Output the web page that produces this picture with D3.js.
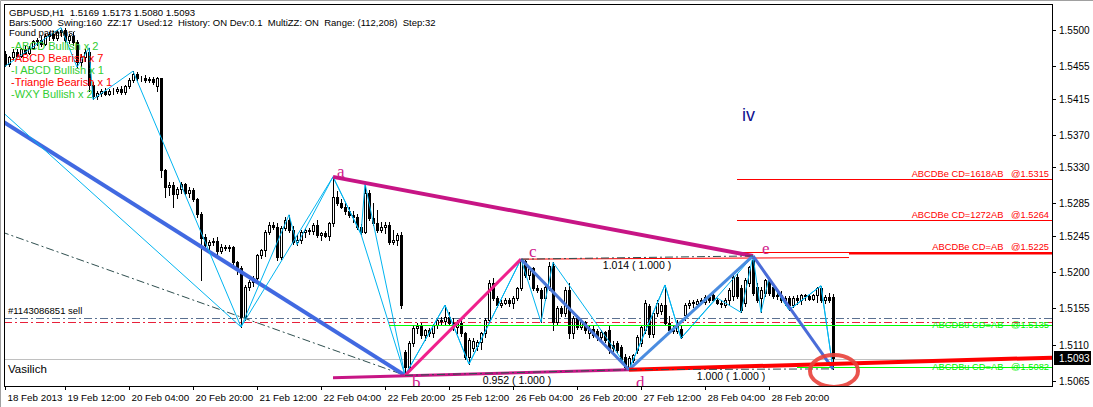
<!DOCTYPE html>
<html><head><meta charset="utf-8">
<script src="https://cdn.jsdelivr.net/npm/d3@7"></script>
<style>html,body{margin:0;padding:0;background:#fff}svg{display:block}text{white-space:pre}</style>
</head><body>
<svg id="c" width="1093" height="407"></svg>
<script>
// ---------- DATA (GBPUSD H1, prices) ----------
const openP = [1.5470,1.5458,1.5466,1.5473,1.5468,1.5476,1.5472,1.5478,1.5486,1.5488,
1.5483,1.5493,1.5495,1.5490,1.5497,1.5500,1.5488,1.5492,1.5485,1.5460,
1.5466,1.5473,1.5432,1.5418,1.5422,1.5424,1.5421,1.5425,1.5424,1.5427,
1.5423,1.5430,1.5438,1.5446,1.5440,1.5441,1.5438,1.5439,1.5430,1.5440,
1.5326,1.5305,1.5308,1.5297,1.5303,1.5309,1.5298,1.5302,1.5290,1.5272,
1.5243,1.5233,1.5237,1.5238,1.5226,1.5231,1.5230,1.5231,1.5212,1.5205,
1.5144,1.5182,1.5188,1.5193,1.5221,1.5227,1.5250,1.5258,1.5256,1.5219,
1.5255,1.5265,1.5252,1.5237,1.5240,1.5250,1.5252,1.5251,1.5258,1.5246,
1.5248,1.5245,1.5261,1.5293,1.5286,1.5281,1.5276,1.5271,1.5268,1.5256,
1.5250,1.5298,1.5267,1.5261,1.5252,1.5256,1.5258,1.5237,1.5240,1.5246,
1.5101,1.5082,1.5112,1.5131,1.5133,1.5122,1.5128,1.5124,1.5134,1.5140,
1.5139,1.5144,1.5137,1.5132,1.5137,1.5124,1.5095,1.5106,1.5108,1.5113,
1.5124,1.5141,1.5186,1.5168,1.5159,1.5162,1.5165,1.5162,1.5168,1.5180,
1.5214,1.5196,1.5205,1.5180,1.5178,1.5168,1.5182,1.5208,1.5138,1.5155,
1.5149,1.5178,1.5125,1.5143,1.5132,1.5138,1.5124,1.5130,1.5127,1.5120,
1.5126,1.5128,1.5110,1.5112,1.5107,1.5095,1.5082,1.5091,1.5103,1.5112,
1.5128,1.5158,1.5123,1.5149,1.5152,1.5159,1.5137,1.5128,1.5127,1.5130,
1.5147,1.5159,1.5162,1.5160,1.5164,1.5163,1.5169,1.5172,1.5165,1.5162,
1.5159,1.5165,1.5170,1.5194,1.5180,1.5162,1.5186,1.5215,1.5182,1.5168,
1.5174,1.5190,1.5182,1.5170,1.5172,1.5165,1.5168,1.5159,1.5168,1.5166,
1.5171,1.5170,1.5167,1.5171,1.5180,1.5166,1.5169,1.5169];
const highP = [1.5474,1.5468,1.5476,1.5476,1.5478,1.5480,1.5480,1.5488,1.5490,1.5492,
1.5495,1.5498,1.5499,1.5500,1.5503,1.5502,1.5495,1.5498,1.5487,1.5470,
1.5476,1.5478,1.5435,1.5425,1.5427,1.5428,1.5427,1.5428,1.5429,1.5430,
1.5432,1.5440,1.5449,1.5448,1.5443,1.5444,1.5442,1.5442,1.5442,1.5441,
1.5328,1.5312,1.5312,1.5306,1.5312,1.5311,1.5306,1.5304,1.5292,1.5274,
1.5247,1.5240,1.5242,1.5243,1.5235,1.5233,1.5234,1.5232,1.5214,1.5207,
1.5184,1.5190,1.5195,1.5222,1.5229,1.5252,1.5262,1.5262,1.5261,1.5257,
1.5268,1.5271,1.5257,1.5246,1.5252,1.5255,1.5255,1.5261,1.5264,1.5250,
1.5251,1.5262,1.5318,1.5300,1.5290,1.5286,1.5281,1.5276,1.5272,1.5260,
1.5310,1.5302,1.5285,1.5277,1.5262,1.5262,1.5262,1.5252,1.5248,1.5250,
1.5103,1.5115,1.5135,1.5137,1.5137,1.5130,1.5131,1.5136,1.5142,1.5144,
1.5159,1.5150,1.5143,1.5140,1.5143,1.5126,1.5118,1.5118,1.5116,1.5126,
1.5143,1.5190,1.5193,1.5170,1.5166,1.5168,1.5168,1.5170,1.5182,1.5216,
1.5215,1.5206,1.5206,1.5184,1.5180,1.5185,1.5212,1.5212,1.5158,1.5158,
1.5182,1.5186,1.5146,1.5147,1.5141,1.5139,1.5133,1.5133,1.5130,1.5128,
1.5127,1.5134,1.5114,1.5115,1.5110,1.5098,1.5096,1.5099,1.5122,1.5134,
1.5166,1.5160,1.5152,1.5165,1.5162,1.5184,1.5145,1.5135,1.5140,1.5134,
1.5162,1.5165,1.5166,1.5167,1.5168,1.5172,1.5171,1.5175,1.5168,1.5165,
1.5168,1.5180,1.5196,1.5198,1.5184,1.5193,1.5208,1.5220,1.5186,1.5181,
1.5192,1.5193,1.5185,1.5176,1.5176,1.5170,1.5170,1.5170,1.5171,1.5173,
1.5173,1.5173,1.5173,1.5182,1.5183,1.5171,1.5174,1.5173];
const lowP = [1.5455,1.5455,1.5463,1.5466,1.5466,1.5470,1.5470,1.5476,1.5482,1.5480,
1.5481,1.5488,1.5488,1.5488,1.5492,1.5485,1.5484,1.5482,1.5454,1.5456,
1.5462,1.5425,1.5414,1.5414,1.5418,1.5419,1.5419,1.5421,1.5422,1.5421,
1.5421,1.5428,1.5436,1.5438,1.5437,1.5436,1.5435,1.5433,1.5424,1.5318,
1.5293,1.5296,1.5281,1.5292,1.5298,1.5295,1.5293,1.5288,1.5268,1.5190,
1.5229,1.5228,1.5233,1.5223,1.5224,1.5227,1.5226,1.5210,1.5198,1.5132,
1.5140,1.5178,1.5183,1.5188,1.5217,1.5220,1.5247,1.5253,1.5215,1.5216,
1.5252,1.5250,1.5235,1.5234,1.5236,1.5243,1.5247,1.5247,1.5244,1.5240,
1.5243,1.5240,1.5257,1.5283,1.5279,1.5272,1.5268,1.5262,1.5253,1.5247,
1.5248,1.5265,1.5258,1.5250,1.5250,1.5249,1.5235,1.5235,1.5233,1.5155,
1.5072,1.5080,1.5108,1.5125,1.5118,1.5116,1.5121,1.5120,1.5131,1.5135,
1.5135,1.5134,1.5128,1.5124,1.5121,1.5092,1.5086,1.5102,1.5104,1.5105,
1.5120,1.5138,1.5165,1.5157,1.5157,1.5160,1.5158,1.5155,1.5165,1.5178,
1.5194,1.5192,1.5178,1.5175,1.5138,1.5165,1.5178,1.5128,1.5135,1.5145,
1.5146,1.5118,1.5118,1.5130,1.5130,1.5125,1.5118,1.5119,1.5116,1.5114,
1.5113,1.5100,1.5102,1.5101,1.5088,1.5080,1.5079,1.5088,1.5100,1.5108,
1.5125,1.5120,1.5120,1.5146,1.5148,1.5134,1.5126,1.5124,1.5124,1.5118,
1.5140,1.5155,1.5157,1.5157,1.5160,1.5161,1.5163,1.5164,1.5160,1.5157,
1.5157,1.5160,1.5165,1.5168,1.5150,1.5158,1.5183,1.5172,1.5163,1.5150,
1.5170,1.5172,1.5168,1.5167,1.5163,1.5159,1.5153,1.5157,1.5161,1.5160,
1.5166,1.5165,1.5165,1.5163,1.5163,1.5162,1.5163,1.5080];
const closeP = [1.5458,1.5466,1.5473,1.5468,1.5476,1.5472,1.5478,1.5486,1.5488,1.5483,
1.5493,1.5495,1.5490,1.5497,1.5500,1.5488,1.5492,1.5485,1.5460,1.5466,
1.5473,1.5432,1.5418,1.5422,1.5424,1.5421,1.5425,1.5424,1.5427,1.5423,
1.5430,1.5438,1.5446,1.5440,1.5441,1.5438,1.5439,1.5436,1.5440,1.5326,
1.5305,1.5308,1.5297,1.5303,1.5309,1.5298,1.5302,1.5290,1.5272,1.5242,
1.5233,1.5237,1.5238,1.5226,1.5231,1.5230,1.5231,1.5212,1.5205,1.5144,
1.5182,1.5188,1.5193,1.5221,1.5227,1.5250,1.5258,1.5256,1.5219,1.5255,
1.5265,1.5252,1.5237,1.5240,1.5250,1.5252,1.5251,1.5258,1.5246,1.5248,
1.5245,1.5261,1.5293,1.5286,1.5281,1.5276,1.5271,1.5268,1.5256,1.5250,
1.5298,1.5267,1.5261,1.5252,1.5256,1.5258,1.5237,1.5240,1.5246,1.5159,
1.5082,1.5112,1.5131,1.5133,1.5122,1.5128,1.5124,1.5134,1.5140,1.5139,
1.5144,1.5137,1.5132,1.5137,1.5124,1.5095,1.5116,1.5115,1.5113,1.5124,
1.5141,1.5186,1.5168,1.5159,1.5162,1.5165,1.5162,1.5168,1.5180,1.5214,
1.5196,1.5205,1.5180,1.5178,1.5168,1.5182,1.5208,1.5138,1.5155,1.5149,
1.5178,1.5125,1.5143,1.5132,1.5138,1.5128,1.5130,1.5122,1.5120,1.5126,
1.5116,1.5104,1.5106,1.5104,1.5091,1.5082,1.5094,1.5097,1.5120,1.5132,
1.5162,1.5123,1.5149,1.5162,1.5159,1.5137,1.5128,1.5127,1.5137,1.5120,
1.5159,1.5162,1.5163,1.5164,1.5165,1.5169,1.5166,1.5166,1.5162,1.5160,
1.5165,1.5178,1.5194,1.5170,1.5153,1.5190,1.5206,1.5174,1.5165,1.5178,
1.5190,1.5174,1.5170,1.5172,1.5165,1.5168,1.5159,1.5168,1.5166,1.5171,
1.5170,1.5167,1.5171,1.5180,1.5166,1.5169,1.5166,1.5093];

// axis labels
const priceTicks = [1.5500,1.5455,1.5415,1.5370,1.5330,1.5285,1.5245,1.5200,1.5155,1.5110,1.5065];
const timeLabels = ["18 Feb 2013","19 Feb 12:00","20 Feb 04:00","20 Feb 20:00","21 Feb 12:00","22 Feb 04:00","22 Feb 20:00","25 Feb 12:00","26 Feb 04:00","26 Feb 20:00","27 Feb 12:00","28 Feb 04:00","28 Feb 20:00"];
const timeLabelBars = [0,15,31,47,63,79,95,111,127,143,159,175,191];
const bidPrice = 1.5093;

// header texts
const headerLines = ["GBPUSD,H1  1.5169 1.5173 1.5080 1.5093",
 "Bars:5000  Swing:160  ZZ:17  Used:12  History: ON Dev:0.1  MultiZZ: ON  Range: (112,208)  Step:32",
 "Found patterns:"];
const patternNames = ["-ABCD Bullish x 2","-ABCD Bearish x 7","-I ABCD Bullish x 1","-Triangle Bearish x 1","-WXY Bullish x 2"];
const patternColors = ["#32CD32","#FF0000","#32CD32","#FF0000","#32CD32"];

// zigzag pivots [bar, price]
const zigzagFine = [[0,1.5455],[14,1.5503],[18,1.5454],[21,1.5478],[22,1.5414],[32,1.5449],[59,1.5132],[71,1.5271],[73,1.5234],[82,1.5318],[89,1.5247],[90,1.5310],[100,1.5072],[110,1.5159],[116,1.5086],[129,1.5216],[134,1.5138],[137,1.5212],[156,1.5079],[165,1.5184],[169,1.5118],[178,1.5168],[184,1.5150],[187,1.5220],[189,1.5150],[191,1.5193],[196,1.5153],[204,1.5183],[207,1.5080]];
const zigzagCoarse = [[-1,1.5400],[59,1.5132],[82,1.5318],[89,1.5247],[100,1.5072],[110,1.5159],[116,1.5086],[129,1.5216],[156,1.5079],[165,1.5184],[169,1.5118],[187,1.5220],[196,1.5153],[204,1.5183],[207,1.5080]];
const wxyLine = [[-1,1.5388],[100,1.5072]];
const trendDash = [[-1,1.5250],[100,1.5072]];
// ABCD / triangle points
const ptA=[82,1.5318], ptB=[100,1.5072], ptC=[129,1.5216], ptD=[156,1.5079], ptE=[187,1.5220], ptF=[207,1.5080];
const triTop = [ptA, ptE];
const triBottom = [[82,1.5069], ptD];
const redTrend = [ptD,[262,1.5094]];
const cLevel = [ptC,[211,1.5218]];
const targetsRed = [1.5315,1.5264,1.5225];
const targetsRedText = ["ABCDBe CD=1618AB   @1.5315","ABCDBe CD=1272AB   @1.5264","ABCDBe CD=AB   @1.5225"];
const targetsGreen = [1.5135,1.5082];
const targetsGreenText = ["ABCDBu CD=AB   @1.5135","ABCDBu CD=AB   @1.5082"];
const targetsGreenStart = [96,198];
const orderLevels = [1.5143,1.5138];
const ratioLabels = [["1.014 ( 1.000 )",ptC,ptE],["0.952 ( 1.000 )",ptB,ptD],["1.000 ( 1.000 )",ptD,ptF]];

// ---------- LAYOUT ----------
const W=1093,H=407, L=4, R=1052, T=4, B=386;
const x = d3.scaleLinear().domain([0,207]).range([5,833]);
const y = d3.scaleLinear().domain([1.5065,1.5500]).range([381,30]);
const svg = d3.select("#c");
const F = "'Liberation Sans',Arial,sans-serif";

svg.append("rect").attr("width",W).attr("height",H).attr("fill","#fff");
svg.append("path").attr("d",`M0.5,${H}V0.5H${W}`).attr("fill","none").attr("stroke","#A0A0A0");
svg.append("defs").append("clipPath").attr("id","plot").append("rect")
  .attr("x",L+1).attr("y",T+1).attr("width",R-L-1).attr("height",B-T-1);
const g = svg.append("g").attr("clip-path","url(#plot)");
const line = d3.line().x(d=>x(d[0])).y(d=>y(d[1]));

// horizontal order / bid lines
g.append("line").attr("x1",L).attr("x2",R).attr("y1",Math.round(y(bidPrice))+1.5).attr("y2",Math.round(y(bidPrice))+1.5)
  .attr("stroke","#C0C0C0").attr("stroke-width",1);
orderLevels.forEach((p,i)=>{
  g.append("line").attr("x1",L).attr("x2",R).attr("y1",Math.round(y(p))+0.5).attr("y2",Math.round(y(p))+0.5)
   .attr("stroke",i===0?"#5A7090":"#E8203A").attr("stroke-width",1).attr("stroke-dasharray","8,3,2,3");
});

// candles
const cg = g.append("g").attr("shape-rendering","crispEdges");
openP.forEach((o,i)=>{
  const c=closeP[i], cx=Math.round(x(i));
  cg.append("line").attr("x1",cx+0.5).attr("x2",cx+0.5).attr("y1",Math.round(y(highP[i]))).attr("y2",Math.round(y(lowP[i]))+1).attr("stroke","#000");
  const yt=Math.round(y(Math.max(o,c))), yb=Math.round(y(Math.min(o,c)));
  cg.append("rect").attr("x",cx-0.5).attr("y",yt+0.5).attr("width",2).attr("height",Math.max(0,yb-yt))
    .attr("fill",c>=o?"#fff":"#000").attr("stroke","#000").attr("stroke-width",1);
});

// left trend lines
g.append("path").datum(trendDash).attr("d",line).attr("fill","none").attr("stroke","#2F4F4F").attr("stroke-width",1).attr("stroke-dasharray","8,3,2,3");
g.append("path").datum(wxyLine).attr("d",line).attr("fill","none").attr("stroke","#4169E1").attr("stroke-width",4);

// zigzags
[zigzagCoarse, zigzagFine].forEach(z=>{
  g.append("path").datum(z).attr("d",line).attr("fill","none").attr("stroke","#00B4F0").attr("stroke-width",1);
});

// target levels
targetsRed.forEach((p,i)=>{
  g.append("line").attr("x1",x(183)).attr("x2",R).attr("y1",Math.round(y(p))+0.5).attr("y2",Math.round(y(p))+0.5)
   .attr("stroke","#FF0000").attr("stroke-width",1);
});
g.append("line").attr("x1",x(211)).attr("x2",R).attr("y1",Math.round(y(targetsRed[2]))+1.5).attr("y2",Math.round(y(targetsRed[2]))+1.5)
   .attr("stroke","#FF0000").attr("stroke-width",2);
targetsGreen.forEach((p,i)=>{
  g.append("line").attr("x1",x(targetsGreenStart[i])).attr("x2",R).attr("y1",Math.round(y(p))+0.5).attr("y2",Math.round(y(p))+0.5)
   .attr("stroke","#00FF00").attr("stroke-width",1);
});
g.append("path").datum(cLevel).attr("d",line).attr("fill","none").attr("stroke","#FF0000").attr("stroke-width",1);

// pattern lines
g.append("path").datum(triTop).attr("d",line).attr("fill","none").attr("stroke","#C71585").attr("stroke-width",4);
g.append("path").datum(triBottom).attr("d",line).attr("fill","none").attr("stroke","#C71585").attr("stroke-width",3);
g.append("path").datum([ptB,ptC]).attr("d",line).attr("fill","none").attr("stroke","#F0208C").attr("stroke-width",3);
g.append("path").datum([ptC,ptD]).attr("d",line).attr("fill","none").attr("stroke","#4A78D8").attr("stroke-width",3);
g.append("path").datum([ptD,ptE]).attr("d",line).attr("fill","none").attr("stroke","#4A8CE0").attr("stroke-width",3);
g.append("path").datum([ptE,ptF]).attr("d",line).attr("fill","none").attr("stroke","#4A6CD8").attr("stroke-width",3);
g.append("path").datum(redTrend).attr("d",line).attr("fill","none").attr("stroke","#FF0000").attr("stroke-width",4);
// ratio dash lines + labels
ratioLabels.forEach(r=>{
  g.append("path").datum([r[1],r[2]]).attr("d",line).attr("fill","none").attr("stroke","#2F4F4F").attr("stroke-width",1).attr("stroke-dasharray","8,3,2,3");
  const mx=(x(r[1][0])+x(r[2][0]))/2, my=(y(r[1][1])+y(r[2][1]))/2;
  g.append("text").attr("x",mx).attr("y",my+11).attr("text-anchor","middle").attr("font-family",F).attr("font-size",10.5).attr("fill","#000").text(r[0]);
});

// target texts
targetsRed.forEach((p,i)=>{
  g.append("text").attr("x",R-3).attr("y",y(p)-2).attr("text-anchor","end").attr("font-family",F).attr("font-size",9.3).attr("fill","#FF0000").text(targetsRedText[i]);
});
targetsGreen.forEach((p,i)=>{
  g.append("text").attr("x",R-3).attr("y",y(p)+3).attr("text-anchor","end").attr("font-family",F).attr("font-size",9.3).attr("fill","#00F000").text(targetsGreenText[i]);
});

// point letters
const letters=[["a",ptA,4,0],["b",ptB,7,13],["c",ptC,8,-2],["d",ptD,7,18],["e",ptE,9,-2]];
letters.forEach(l=>{
  g.append("text").attr("x",x(l[1][0])+l[2]).attr("y",y(l[1][1])+l[3]).attr("font-family","'Liberation Serif','Times New Roman',serif")
   .attr("font-size",17).attr("fill","#D0208A").text(l[0]);
});
g.append("text").attr("x",x(184)+1).attr("y",121).attr("font-family",F).attr("font-size",18).attr("fill","#101090").text("iv");

// circle
g.append("ellipse").attr("cx",x(ptF[0])+1).attr("cy",y(ptF[1])+2).attr("rx",24).attr("ry",16)
  .attr("fill","none").attr("stroke","#E8403A").attr("stroke-width",4).attr("opacity",0.9);

// side texts
g.append("text").attr("x",8).attr("y",y(orderLevels[0])-4).attr("font-family",F).attr("font-size",9.5).text("#1143086851 sell");
g.append("text").attr("x",8).attr("y",373).attr("font-family",F).attr("font-size",11.5).text("Vasilich");

// header
const headerSizes=[9.6,9.5,9.5];
headerLines.forEach((t,i)=>{
  svg.append("text").attr("x",9).attr("y",16+i*10.2).attr("font-family",F).attr("font-size",headerSizes[i]).attr("fill","#000").text(t);
});
patternNames.forEach((t,i)=>{
  svg.append("text").attr("x",11).attr("y",49.5+i*12).attr("font-family",F).attr("font-size",11).attr("fill",patternColors[i]).text(t);
});

// frame
svg.append("rect").attr("x",L+0.5).attr("y",T+0.5).attr("width",R-L).attr("height",B-T).attr("fill","none").attr("stroke","#000").attr("shape-rendering","crispEdges");

// right axis
const ra = svg.append("g").attr("shape-rendering","crispEdges");
priceTicks.forEach(p=>{
  const yy=Math.round(y(p))+0.5;
  ra.append("line").attr("x1",R).attr("x2",R+4).attr("y1",yy).attr("y2",yy).attr("stroke","#000");
  svg.append("text").attr("x",R+7).attr("y",yy+3.5).attr("font-family",F).attr("font-size",10).attr("fill","#000").text(p.toFixed(4));
});
const by=Math.round(y(bidPrice));
svg.append("rect").attr("x",R+2).attr("y",by-7).attr("width",37).attr("height",14).attr("fill","#000");
svg.append("text").attr("x",R+7).attr("y",by+4).attr("font-family",F).attr("font-size",10).attr("fill","#fff").text(bidPrice.toFixed(4));

// bottom axis
timeLabels.forEach((t,i)=>{
  const xx=Math.round(x(timeLabelBars[i]))+0.5;
  ra.append("line").attr("x1",xx).attr("x2",xx).attr("y1",B).attr("y2",B+4).attr("stroke","#000");
  svg.append("text").attr("x",xx+2).attr("y",401).attr("font-family",F).attr("font-size",9.8).attr("fill","#000").text(t);
});
</script>
</body></html>
